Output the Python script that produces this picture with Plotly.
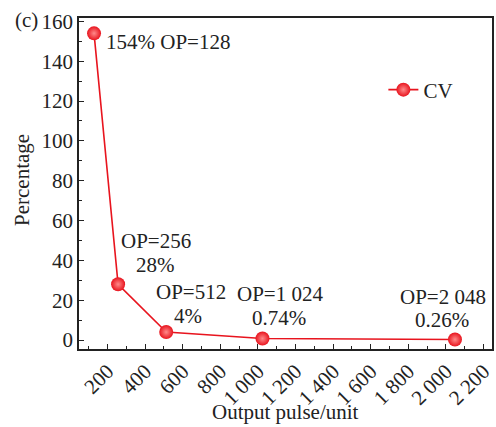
import plotly.graph_objects as go

output_pulse = [128, 256, 512, 1024, 2048]
cv_percent = [154, 28, 4, 0.74, 0.26]
label_top = ["154% OP=128", "OP=256", "OP=512", "OP=1 024", "OP=2 048"]
label_bottom = ["", "28%", "4%", "0.74%", "0.26%"]
x_tick_vals = [200, 400, 600, 800, 1000, 1200, 1400, 1600, 1800, 2000, 2200]
x_tick_text = ["200", "400", "600", "800", "1 000", "1 200", "1 400", "1 600", "1 800", "2 000", "2 200"]
y_tick_vals = [0, 20, 40, 60, 80, 100, 120, 140, 160]

FONT = "Liberation Serif, Times New Roman, serif"
RED = "#e8141e"
INK = "#222"

fig = go.Figure()
fig.add_trace(go.Scatter(
    x=output_pulse, y=cv_percent, mode="lines+markers", name="CV",
    line=dict(color=RED, width=1.6),
    marker=dict(size=14, color=RED, line=dict(width=0),
                gradient=dict(type="radial", color="#ff8a8a")),
))

# label offsets (pixels) per point: (xshift top, yshift top, xshift bottom, yshift bottom, xanchor)
shifts = [(10, -9, 0, 0, "left"), (38, 43, 37, 19, "center"), (25, 40, 22, 16, "center"),
          (18, 45, 17, 21, "center"), (-12, 43, -13, 20, "center")]
for xv, yv, t1, t2, (dx1, dy1, dx2, dy2, xa) in zip(output_pulse, cv_percent, label_top, label_bottom, shifts):
    fig.add_annotation(x=xv, y=yv, xref="x", yref="y", text=t1, showarrow=False,
                       xshift=dx1, yshift=dy1, xanchor=xa, yanchor="middle",
                       font=dict(family=FONT, size=21, color=INK))
    if t2:
        fig.add_annotation(x=xv, y=yv, xref="x", yref="y", text=t2, showarrow=False,
                           xshift=dx2, yshift=dy2, xanchor=xa, yanchor="middle",
                           font=dict(family=FONT, size=21, color=INK))

PW, PH = 413, 331  # plot area size in px
fig.add_annotation(x=-66 / PW, y=1 - 2 / PH, xref="paper", yref="paper", text="(c)", showarrow=False,
                   xanchor="left", yanchor="middle", font=dict(family=FONT, size=21, color=INK))
fig.add_annotation(x=(285 - 79) / PW, y=-(412 - 349) / PH, xref="paper", yref="paper",
                   text="Output pulse/unit", showarrow=False, xanchor="center", yanchor="middle",
                   font=dict(family=FONT, size=21, color=INK))
fig.add_annotation(x=-(79 - 22) / PW, y=(349 - 180) / PH, xref="paper", yref="paper",
                   text="Percentage", showarrow=False, textangle=-90, xanchor="center", yanchor="middle",
                   font=dict(family=FONT, size=21, color=INK))

axis_common = dict(
    showline=True, linecolor=INK, linewidth=1.5, mirror=True,
    ticks="inside", ticklen=5, tickwidth=1.2, tickcolor=INK,
    showgrid=False, zeroline=False, automargin=False,
    tickfont=dict(family=FONT, size=21, color=INK),
)

fig.update_xaxes(
    **axis_common, range=[48, 2245], tickvals=x_tick_vals, ticktext=x_tick_text, tickangle=-45,
    minor=dict(ticks="inside", ticklen=3, dtick=100, tick0=0, tickcolor=INK, tickwidth=1.2),
)
fig.update_yaxes(
    **axis_common, range=[-4.5, 161.7], tickvals=y_tick_vals,
    minor=dict(ticks="inside", ticklen=3, dtick=10, tick0=0, tickcolor=INK, tickwidth=1.2),
)

fig.update_layout(
    width=496, height=427,
    margin=dict(l=79, r=4, t=18, b=78),
    paper_bgcolor="white", plot_bgcolor="white",
    showlegend=True,
    legend=dict(x=0.737, y=(349 - 90) / PH, xanchor="left", yanchor="middle", bgcolor="rgba(0,0,0,0)",
                font=dict(family=FONT, size=21, color=INK)),
)

fig.write_html("out.html", config={"displayModeBar": False},
               post_script="document.body.style.margin='0';document.body.style.overflow='hidden';")
